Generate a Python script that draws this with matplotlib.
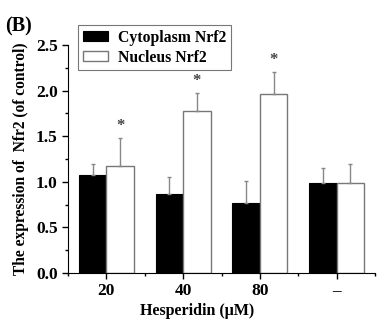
import numpy as np
from matplotlib import pyplot as plt
from matplotlib.ticker import MultipleLocator

# Values
groups = ['20', '40', '80', '\u2013']
cyto = [1.08, 0.87, 0.77, 0.99]
cyto_err = [0.11, 0.18, 0.24, 0.16]
nucl = [1.17, 1.78, 1.96, 0.99]
nucl_err = [0.31, 0.20, 0.25, 0.21]
stars = [True, True, True, False]

plt.rcParams['font.family'] = 'Liberation Serif'
plt.rcParams['font.weight'] = 'bold'

fig = plt.figure(figsize=(3.91, 3.32), dpi=100)
ax = fig.add_axes([0.174, 0.178, 0.785, 0.686])

x = np.arange(len(groups))
w = 0.36
ax.bar(x - w/2, cyto, w, color='black', edgecolor='black', linewidth=0.8,
       label='Cytoplasm Nrf2')
ax.bar(x + w/2, nucl, w, color='white', edgecolor='#777777', linewidth=1.0,
       label='Nucleus Nrf2')
ax.errorbar(x - w/2, cyto, yerr=[np.zeros(4), cyto_err], fmt='none',
            ecolor='#888888', elinewidth=1.0, capsize=1.5, capthick=1.0)
ax.errorbar(x + w/2, nucl, yerr=[np.zeros(4), nucl_err], fmt='none',
            ecolor='#888888', elinewidth=1.0, capsize=1.5, capthick=1.0)
for i in range(len(groups)):
    if stars[i]:
        ax.text(x[i] + w/2, nucl[i] + nucl_err[i] + 0.04, '*', ha='center',
                va='bottom', fontsize=12, color='#444444')

ax.set_xlim(-0.5, 3.5)
ax.set_ylim(0, 2.5)
ax.set_xticks(x)
ax.set_xticklabels(groups, fontsize=12.5, fontweight='bold')
ax.xaxis.set_minor_locator(MultipleLocator(1, offset=0.5))
ax.yaxis.set_major_locator(MultipleLocator(0.5))
ax.yaxis.set_minor_locator(MultipleLocator(0.25))
ax.yaxis.set_major_formatter(plt.FormatStrFormatter('%.1f'))
for lab in ax.get_yticklabels():
    lab.set_fontsize(12.5)
    lab.set_fontweight('bold')
ax.tick_params(which='major', length=4, width=1)
ax.tick_params(which='minor', length=2, width=1)
ax.spines['top'].set_visible(False)
ax.spines['right'].set_visible(False)
ax.set_xlabel('Hesperidin (\u03bcM)', fontsize=11.5, fontweight='bold', labelpad=4)
ax.xaxis.set_label_coords(0.42, -0.13)
ax.set_ylabel('The expression of  Nfr2 (of control)', fontsize=11.2,
              fontweight='bold', labelpad=5)

leg = ax.legend(loc='upper left', bbox_to_anchor=(0.034, 1.088), fontsize=11.3,
                frameon=True, fancybox=False, edgecolor='#555555',
                handlelength=1.6, handleheight=0.6, handletextpad=0.6,
                borderpad=0.3, labelspacing=0.25, borderaxespad=0)
leg.get_frame().set_linewidth(0.8)

fig.text(0.012, 0.905, '(B)', fontsize=14.5, fontweight='bold')

plt.savefig('out.png', dpi=100)
